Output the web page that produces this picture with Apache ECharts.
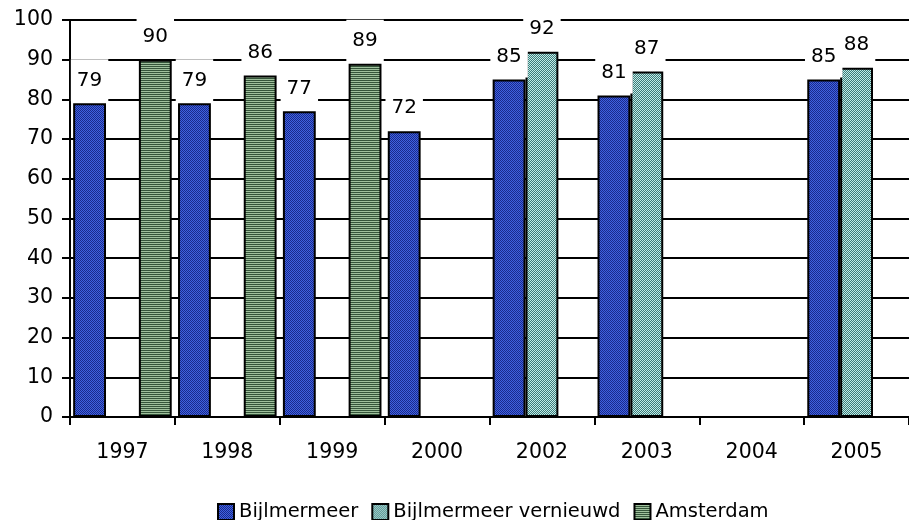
<!DOCTYPE html>
<html>
<head>
<meta charset="utf-8">
<script src="https://cdn.jsdelivr.net/npm/echarts@6/dist/echarts.min.js"></script>
<style>
  html, body { margin: 0; padding: 0; background: #fff; }
  #chart { width: 909px; height: 520px; }
</style>
</head>
<body>
<div id="chart"></div>
<script>
const years = ['1997', '1998', '1999', '2000', '2002', '2003', '2004', '2005'];
const bijlmermeer = [79, 79, 77, 72, 85, 81, null, 85];
const vernieuwd = [null, null, null, null, 92, 87, null, 88];
const amsterdam = [90, 86, 89, null, null, null, null, null];
const seriesNames = ['Bijlmermeer', 'Bijlmermeer vernieuwd', 'Amsterdam'];

const FONT = 'DejaVu Sans';

// Small tiled canvases used as hatched bar fills
function hatch(bg, fg, kind) {
  const c = document.createElement('canvas');
  const s = 4;
  c.width = s; c.height = s;
  const g = c.getContext('2d');
  g.fillStyle = bg;
  g.fillRect(0, 0, s, s);
  g.fillStyle = fg;
  if (kind === 'h') {
    g.fillRect(0, 0, s, 1);
    g.fillRect(0, 2, s, 1);
  } else if (kind === 'back') {
    for (let i = 0; i < s; i++) { g.fillRect(i, i, 1, 1); g.fillRect((i + 2) % s, i, 1, 1); }
  } else {
    for (let i = 0; i < s; i++) { g.fillRect(s - 1 - i, i, 1, 1); g.fillRect((s + 1 - i) % s, i, 1, 1); }
  }
  return { image: c, repeat: 'repeat' };
}

const fills = [
  hatch('#3f62e0', '#1a2a8c', 'back'),
  hatch('#c0ece8', '#3e7a78', 'fwd'),
  hatch('#9fc09c', '#35553a', 'h')
];

const labelStyle = {
  show: true,
  position: 'top',
  distance: 2,
  color: '#000',
  fontFamily: FONT,
  fontSize: 20,
  lineHeight: 24,
  backgroundColor: '#fff',
  padding: [9, 6, 9, 6]
};

const chart = echarts.init(document.getElementById('chart'));
chart.setOption({
  animation: false,
  grid: { left: 70, right: 0, top: 20, bottom: 103 },
  legend: {
    top: 497,
    left: 212,
    icon: 'rect',
    itemWidth: 16,
    itemHeight: 16,
    itemGap: 13,
    textStyle: { fontFamily: FONT, fontSize: 19.5, color: '#000' },
    data: seriesNames
  },
  xAxis: {
    type: 'category',
    data: years,
    axisLine: { lineStyle: { color: '#000', width: 2 } },
    axisTick: { show: true, length: 8, lineStyle: { color: '#000', width: 2 } },
    axisLabel: { color: '#000', fontFamily: FONT, fontSize: 20.5, margin: 25 }
  },
  yAxis: {
    type: 'value',
    min: 0,
    max: 100,
    interval: 10,
    axisLine: { show: true, lineStyle: { color: '#000', width: 2 } },
    axisTick: { show: true, length: 8, lineStyle: { color: '#000', width: 2 } },
    axisLabel: { color: '#000', fontFamily: FONT, fontSize: 20.5, margin: 17 },
    splitLine: { lineStyle: { color: '#000', width: 2 } }
  },
  series: [bijlmermeer, vernieuwd, amsterdam].map((vals, i) => ({
    name: seriesNames[i],
    type: 'bar',
    data: vals,
    barGap: '0%',
    barCategoryGap: '6%',
    itemStyle: { color: fills[i], borderColor: '#000', borderWidth: 2 },
    label: labelStyle
  }))
});
</script>
</body>
</html>
